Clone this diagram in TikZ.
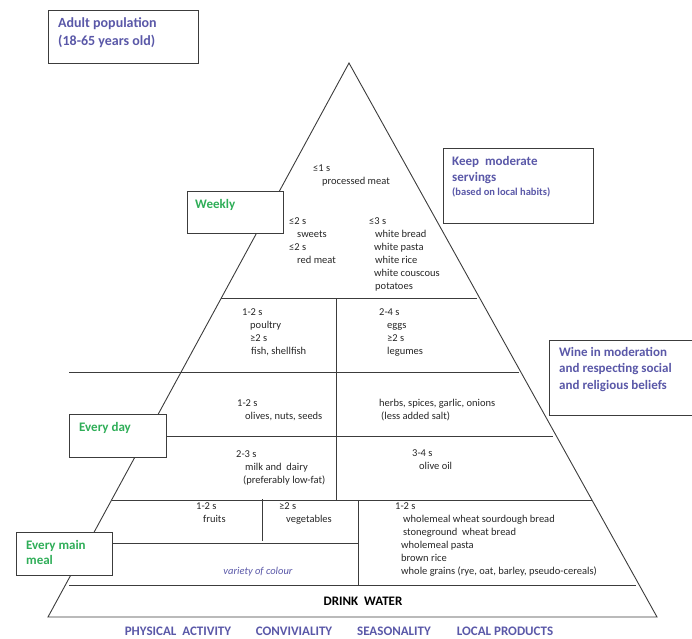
\documentclass[tikz,border=0pt]{standalone}
\usepackage{fontspec}
\setmainfont{Carlito}
\definecolor{pyrblue}{HTML}{5A58A8}
\definecolor{pyrgreen}{HTML}{2FAE58}
\definecolor{pyrline}{HTML}{3C3C3C}
\newcommand{\indt}[1]{\hspace*{#1pt}}
\tikzset{
  box/.style={draw=pyrline, line width=1.1pt, fill=white, anchor=north west, inner sep=0pt},
  item/.style={anchor=north west, inner sep=0pt, align=left, font=\fontsize{10.5}{13}\selectfont, text=black!85},
  head/.style={anchor=north west, inner sep=0pt, align=left, font=\fontsize{13}{16.5}\selectfont\bfseries},
  motto/.style={inner sep=0pt, font=\fontsize{13}{15}\selectfont\bfseries, text=pyrblue}
}
\begin{document}
\begin{tikzpicture}[x=1pt,y=-1pt]
\useasboundingbox (0,0) rectangle (692,638);
\coordinate (A) at (349,63);
\coordinate (BL) at (48,617);
\coordinate (BR) at (657,617);

% pyramid
\draw[pyrline, line width=0.9pt] (BL) -- (A) -- (BR) -- cycle;

% levels
\draw[pyrline, line width=0.9pt] (221,298) -- (477,298);
\draw[pyrline, line width=0.9pt] (69,372) -- (519,372);
\draw[pyrline, line width=0.9pt] (166,436) -- (553,436);
\draw[pyrline, line width=0.9pt] (112,500) -- (592,500);
\draw[pyrline, line width=0.9pt] (112,543) -- (358,543);
\draw[pyrline, line width=0.9pt] (69,585) -- (636,585);
\draw[pyrline, line width=0.9pt] (336,298) -- (336,500);
\draw[pyrline, line width=0.9pt] (262,499) -- (262,541);
\draw[pyrline, line width=0.9pt] (358,500) -- (358,585);

% boxes
\node[box, minimum width=150pt, minimum height=53pt] (adult) at (48,10) {};
\node[box, minimum width=96pt, minimum height=42pt] (weekly) at (187,191) {};
\node[box, minimum width=150pt, minimum height=75pt] (keep) at (443,148) {};
\node[box, minimum width=146pt, minimum height=75pt] (wine) at (549,340) {};
\node[box, minimum width=97pt, minimum height=43pt] (everyday) at (69,414) {};
\node[box, minimum width=96pt, minimum height=43pt] (mainmeal) at (16,532) {};

\node[head, text=pyrblue, font=\fontsize{14}{18}\selectfont\bfseries] (adulttxt) at (58,17) {Adult population\\(18-65 years old)};
\node[head, text=pyrgreen] (weeklytxt) at (195,199) {Weekly};
\node[head, text=pyrblue] (keeptxt) at (452,156) {Keep~~moderate\\servings};
\node[head, text=pyrblue, font=\fontsize{10.5}{12}\selectfont\bfseries] (keepnote) at (452,187) {(based on local habits)};
\node[head, text=pyrblue] (winetxt) at (559,347) {Wine in moderation\\and respecting social\\and religious beliefs};
\node[head, text=pyrgreen] (everydaytxt) at (79,422) {Every day};
\node[head, text=pyrgreen, font=\fontsize{13}{15.5}\selectfont\bfseries] (mainmealtxt) at (26,540) {Every main\\meal};

% servings
\node[item] (procmeat) at (313,165) {≤1 s\\\indt{9}processed meat};
\node[item] (sweets) at (289,217) {≤2 s\\\indt{8}sweets\\≤2 s\\\indt{8}red meat};
\node[item] (white) at (369,217) {≤3 s\\\indt{6}white bread\\\indt{5}white pasta\\\indt{6}white rice\\\indt{5}white couscous\\\indt{6}potatoes};
\node[item] (poultry) at (242,308) {1-2 s\\\indt{8}poultry\\\indt{8}≥2 s\\\indt{9}fish, shellfish};
\node[item] (eggs) at (379,308) {2-4 s\\\indt{8}eggs\\\indt{8}≥2 s\\\indt{8}legumes};
\node[item] (olives) at (237,399) {1-2 s\\\indt{8}olives, nuts, seeds};
\node[item] (herbs) at (379,399) {herbs, spices, garlic, onions\\\indt{2}(less added salt)};
\node[item] (dairy) at (236,450) {2-3 s\\\indt{9}milk and~~dairy\\\indt{7}(preferably low-fat)};
\node[item] (oliveoil) at (412,449) {3-4 s\\\indt{7}olive oil};
\node[item] (fruits) at (196,502) {1-2 s\\\indt{7}fruits};
\node[item] (veg) at (279,502) {≥2 s\\\indt{7}vegetables};
\node[item] (grains) at (395,502) {1-2 s\\\indt{8}wholemeal wheat sourdough bread\\\indt{8}stoneground~~wheat bread\\\indt{6}wholemeal pasta\\\indt{6}brown rice\\\indt{6}whole grains (rye, oat, barley, pseudo-cereals)};
\node[inner sep=0pt, font=\fontsize{10.5}{12}\selectfont\itshape, text=pyrblue] (colour) at (258,572) {variety of colour};
\node[inner sep=0pt, font=\fontsize{13}{15}\selectfont\bfseries] (water) at (363,601) {DRINK~~WATER};

% bottom line
\node[motto] (activity) at (178,631) {PHYSICAL~~ACTIVITY};
\node[motto] (convivial) at (294,631) {CONVIVIALITY};
\node[motto] (season) at (394,631) {SEASONALITY};
\node[motto] (local) at (505,631) {LOCAL PRODUCTS};
\end{tikzpicture}
\end{document}
